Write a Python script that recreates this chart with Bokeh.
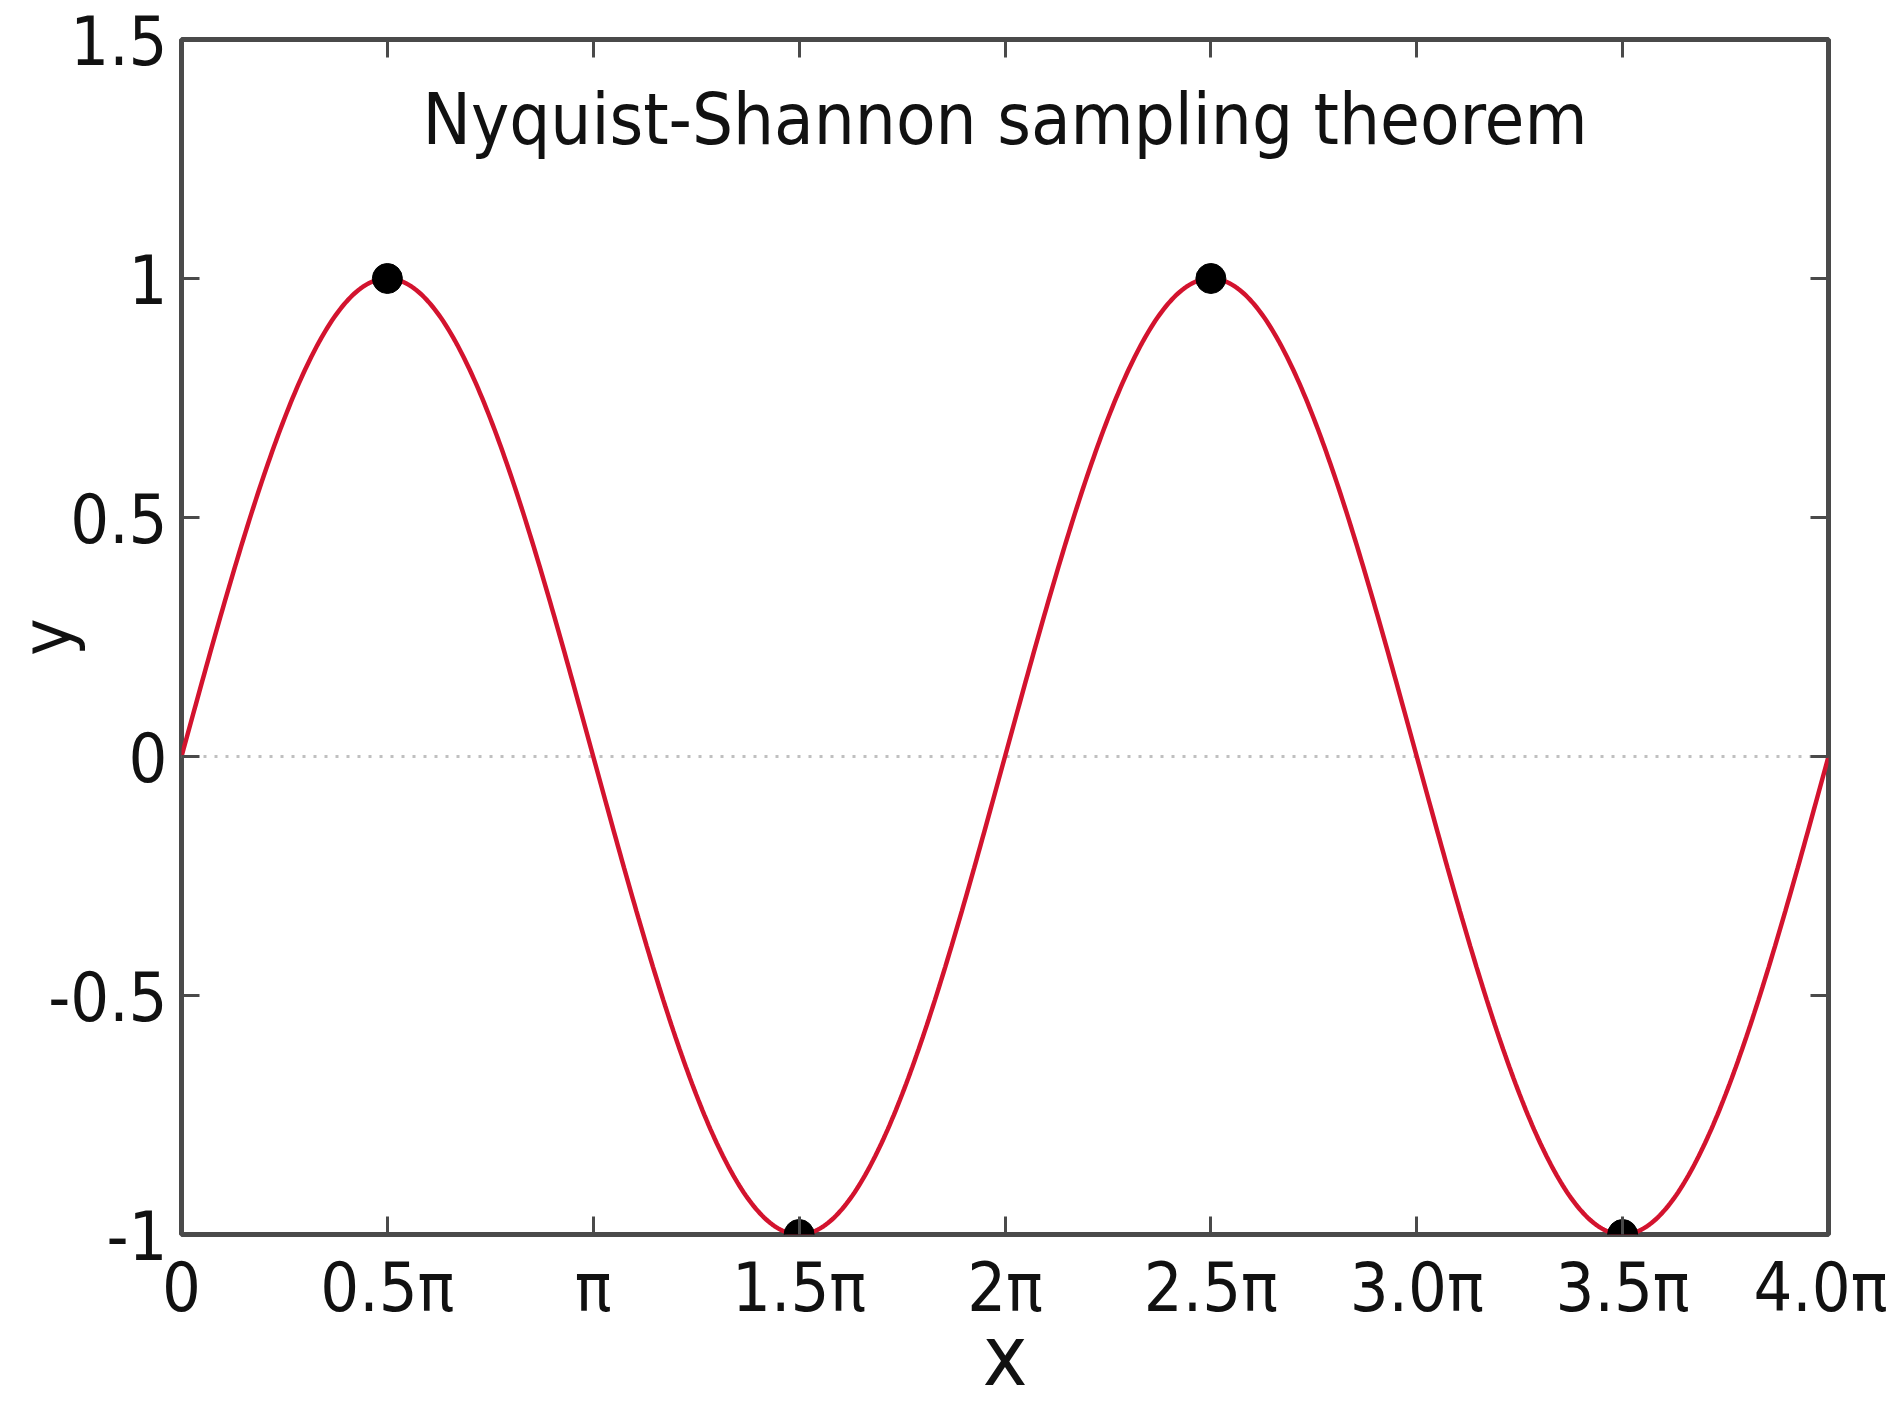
import numpy as np
from bokeh.plotting import figure
from bokeh.models import Range1d, FixedTicker, LinearAxis, Span, Label
from bokeh.embed import file_html
from bokeh.resources import INLINE

# ---- data (x in units of pi) ----
title_text = "Nyquist-Shannon sampling theorem"
x_label = "x"
y_label = "y"
x_ticks = [0, 0.5, 1, 1.5, 2, 2.5, 3, 3.5, 4]
x_tick_labels = ["0", "0.5\u03c0", "\u03c0", "1.5\u03c0", "2\u03c0", "2.5\u03c0", "3.0\u03c0", "3.5\u03c0", "4.0\u03c0"]
y_ticks = [-1, -0.5, 0, 0.5, 1, 1.5]
y_tick_labels = ["-1", "-0.5", "0", "0.5", "1", "1.5"]
sample_x = [0.5, 1.5, 2.5, 3.5]
sample_y = [1, -1, 1, -1]
# plotted function: y = sin(x), x from 0 to 4 pi
curve_x = np.linspace(0, 4, 801)
curve_y = np.sin(np.pi * curve_x)

FONT = "DejaVu Sans Condensed"
DARK = "#4a4a4a"
TXT = "#111111"

p = figure(width=1887, height=1410, output_backend="svg", toolbar_location=None,
           x_range=Range1d(0, 4), y_range=Range1d(-1, 1.5),
           min_border_left=181, min_border_right=59, min_border_top=39, min_border_bottom=176,
           x_axis_location=None, y_axis_location=None)
p.xgrid.visible = False
p.ygrid.visible = False
p.outline_line_color = DARK
p.outline_line_width = 5
p.background_fill_color = "white"
p.border_fill_color = "white"

def style_axis(ax, ticks, labels, show_labels, standoff=20):
    ax.ticker = FixedTicker(ticks=ticks)
    ax.axis_line_color = None
    ax.major_tick_in = 18
    ax.major_tick_out = 0
    ax.major_tick_line_color = DARK
    ax.major_tick_line_width = 3
    ax.minor_tick_line_color = None
    if show_labels:
        ax.major_label_overrides = {t: l for t, l in zip(ticks, labels)}
        ax.major_label_text_font = FONT
        ax.major_label_text_font_size = "68px"
        ax.major_label_text_color = TXT
        ax.major_label_standoff = standoff
    else:
        ax.major_label_text_font_size = "0px"
        ax.major_label_text_color = None
        ax.major_label_standoff = 0

bottom = LinearAxis()
left = LinearAxis()
top = LinearAxis()
right = LinearAxis()
style_axis(bottom, x_ticks, x_tick_labels, True, standoff=13)
style_axis(left, y_ticks, y_tick_labels, True, standoff=14)
style_axis(top, x_ticks, x_tick_labels, False)
style_axis(right, y_ticks, y_tick_labels, False)

bottom.axis_label = x_label
bottom.axis_label_text_font = FONT
bottom.axis_label_text_font_size = "84px"
bottom.axis_label_text_font_style = "normal"
bottom.axis_label_text_color = TXT
bottom.axis_label_text_line_height = 0.8
bottom.axis_label_standoff = -23

left.axis_label = y_label
left.axis_label_text_font = FONT
left.axis_label_text_font_size = "70px"
left.axis_label_text_font_style = "normal"
left.axis_label_text_color = TXT
left.axis_label_standoff = -43

p.add_layout(bottom, "below")
p.add_layout(left, "left")
p.add_layout(top, "above")
p.add_layout(right, "right")

zero = Span(location=0, dimension="width", line_color="#c0c0c0", line_width=3,
            line_dash="3 8", level="underlay")
p.add_layout(zero)

p.line(curve_x, curve_y, line_color="#d3132e", line_width=4.5)
p.scatter(sample_x, sample_y, size=30, fill_color="black", line_color="black")

p.add_layout(Label(x=2, y=1.333, text=title_text, text_align="center",
                   text_baseline="alphabetic", text_font=FONT, text_font_size="72px",
                   text_color=TXT))

open("out.html", "w").write(file_html(p, INLINE))
